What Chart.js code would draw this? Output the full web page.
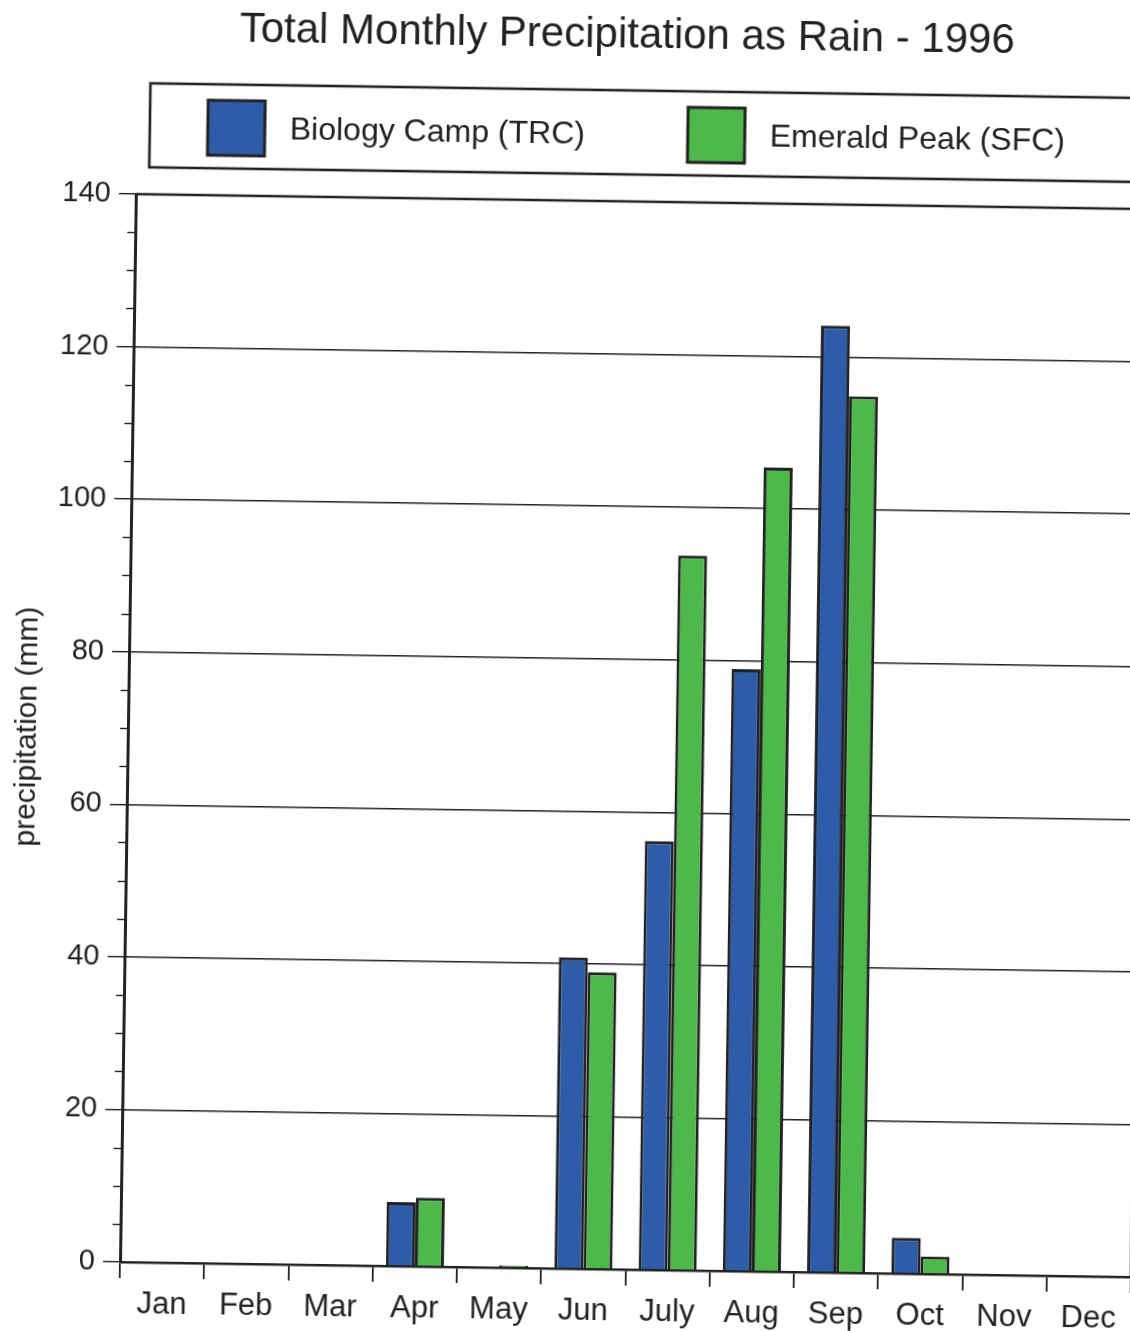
<!DOCTYPE html>
<html>
<head>
<meta charset="utf-8">
<script src="https://cdn.jsdelivr.net/npm/chart.js@4.4.1/dist/chart.umd.min.js"></script>
<style>
html,body{margin:0;padding:0;background:#fff;overflow:hidden;width:1130px;height:1331px;}
#wrap{position:absolute;left:0;top:0;width:1180px;height:1331px;transform-origin:120px 1262px;transform:rotate(0.85deg);background:#fff;}
canvas{display:block;background:#fff;}
</style>
</head>
<body>
<div id="wrap"><canvas id="c" width="1180" height="1331"></canvas></div>
<script>
// ---- data ----
const months = ['Jan','Feb','Mar','Apr','May','Jun','July','Aug','Sep','Oct','Nov','Dec'];
const biologyCamp = [0, 0, 0, 8.4, 0, 40.8, 56.2, 78.9, 124.1, 4.7, 0, 0];
const emeraldPeak = [0, 0, 0, 9.0, 0.3, 38.9, 93.7, 105.4, 114.9, 2.3, 0, 0];
const seriesNames = ['Biology Camp (TRC)', 'Emerald Peak (SFC)'];
const yMin = 0, yMax = 140, yStep = 20, yMinorStep = 5;
const titleText = 'Total Monthly Precipitation as Rain - 1996';
const yAxisTitle = 'precipitation (mm)';

const FONT = '"Liberation Sans", Arial, Helvetica, sans-serif';
const INK = '#222222';
const BLUE = '#2d5ca9';
const GREEN = '#4db94b';

const decor = {
  id: 'decor',
  afterDraw(chart) {
    const ctx = chart.ctx;
    const ca = chart.chartArea;
    const y = chart.scales.y;
    ctx.save();
    // plot frame: top and right edges
    ctx.strokeStyle = INK;
    ctx.lineWidth = 2.6;
    ctx.beginPath();
    ctx.moveTo(ca.left, ca.top);
    ctx.lineTo(ca.right, ca.top);
    ctx.lineTo(ca.right, ca.bottom);
    ctx.stroke();
    // minor ticks on y axis
    ctx.lineWidth = 1.4;
    for (let v = yMin + yMinorStep; v < yMax; v += yMinorStep) {
      if (v % yStep === 0) continue;
      const py = Math.round(y.getPixelForValue(v)) + 0.5;
      ctx.beginPath();
      ctx.moveTo(ca.left - 8, py);
      ctx.lineTo(ca.left, py);
      ctx.stroke();
    }
    // title
    ctx.fillStyle = INK;
    ctx.font = '42px ' + FONT;
    ctx.textAlign = 'center';
    ctx.textBaseline = 'alphabetic';
    ctx.fillText(titleText, 609, 40);
    // legend box
    ctx.lineWidth = 2.6;
    ctx.strokeStyle = INK;
    ctx.strokeRect(133, 83, 1100, 84);
    ctx.font = '32px ' + FONT;
    ctx.textAlign = 'left';
    chart.data.datasets.forEach((ds, i) => {
      const sx = 191 + i * 480;
      ctx.fillStyle = ds.backgroundColor;
      ctx.fillRect(sx, 99, 57, 55);
      ctx.lineWidth = 3;
      ctx.strokeStyle = INK;
      ctx.strokeRect(sx, 99, 57, 55);
      ctx.fillStyle = INK;
      ctx.fillText(ds.label, sx + 82, 137);
    });
    ctx.restore();
  }
};

new Chart(document.getElementById('c'), {
  type: 'bar',
  data: {
    labels: months,
    datasets: [
      { label: seriesNames[0], data: biologyCamp, backgroundColor: BLUE, borderColor: INK, borderWidth: 3, borderSkipped: 'bottom' },
      { label: seriesNames[1], data: emeraldPeak, backgroundColor: GREEN, borderColor: INK, borderWidth: 3, borderSkipped: 'bottom' }
    ]
  },
  options: {
    responsive: false,
    animation: false,
    devicePixelRatio: 1,
    layout: { padding: { top: 194, left: 0, right: 49, bottom: 0 } },
    datasets: { bar: { categoryPercentage: 0.69, barPercentage: 1.0 } },
    plugins: { legend: { display: false }, title: { display: false }, tooltip: { enabled: false } },
    scales: {
      x: {
        afterFit(s) { s.height = 69; },
        grid: { offset: true, drawOnChartArea: false, drawTicks: true, tickLength: 16, color: INK, lineWidth: 1.8 },
        border: { display: true, color: INK, width: 2.6 },
        ticks: { color: INK, font: { family: FONT, size: 31 }, padding: 8, maxRotation: 0, autoSkip: false }
      },
      y: {
        min: yMin, max: yMax,
        afterFit(s) { s.width = 120; },
        grid: { color: INK, lineWidth: 1.4, tickLength: 17, drawTicks: true },
        border: { display: true, color: INK, width: 3 },
        ticks: { stepSize: yStep, color: INK, font: { family: FONT, size: 29 }, padding: 8 },
        title: { display: true, text: yAxisTitle, color: INK, font: { family: FONT, size: 30 }, padding: { top: 2, bottom: 0 } }
      }
    }
  },
  plugins: [decor]
});
</script>
</body>
</html>
